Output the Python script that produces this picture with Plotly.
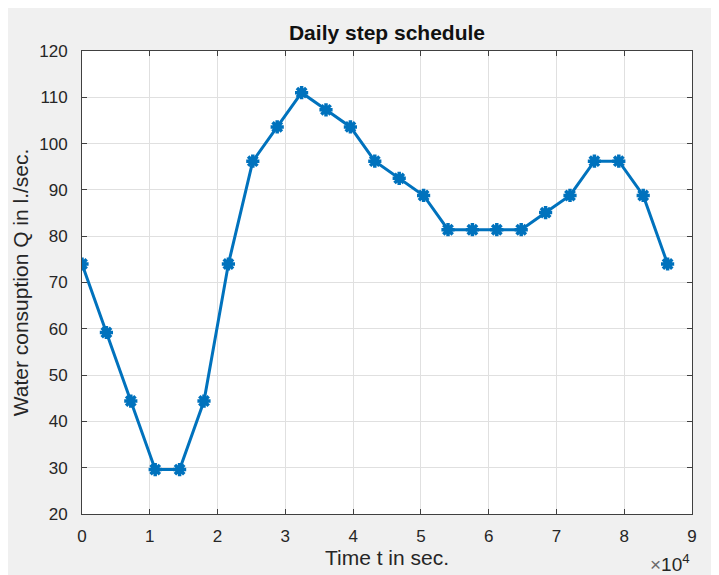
import plotly.graph_objects as go

# Data
time_s = [0, 3600, 7200, 10800, 14400, 18000, 21600, 25200, 28800, 32400,
          36000, 39600, 43200, 46800, 50400, 54000, 57600, 61200, 64800,
          68400, 72000, 75600, 79200, 82800, 86400]
flow_q = [74.0, 59.2, 44.4, 29.6, 29.6, 44.4, 74.0, 96.2, 103.6, 111.0,
          107.3, 103.6, 96.2, 92.5, 88.8, 81.4, 81.4, 81.4, 81.4,
          85.1, 88.8, 96.2, 96.2, 88.8, 74.0]
x_tickvals = [0, 10000, 20000, 30000, 40000, 50000, 60000, 70000, 80000, 90000]
x_ticktext = ["0", "1", "2", "3", "4", "5", "6", "7", "8", "9"]
y_tickvals = [20, 30, 40, 50, 60, 70, 80, 90, 100, 110, 120]

# page has an 8px body margin; figure coordinates = page coordinates - 8
W, H = 711, 567
L, R, T, B = 74, 27, 43, 61
pw, ph = W - L - R, H - T - B

def px_y(p):
    return (H - B - p) / ph

font_fam = "Liberation Sans, Arial, Helvetica, sans-serif"
txt_col = "#262626"
line_col = "#0072BD"

fig = go.Figure()
fig.add_trace(go.Scatter(
    x=time_s, y=flow_q, mode="lines+markers",
    line=dict(color=line_col, width=3),
    marker=dict(symbol="asterisk-open", size=11,
                line=dict(color=line_col, width=3.5), color=line_col),
    showlegend=False,
))

axis_common = dict(
    showline=True, linecolor="#404040", linewidth=1, mirror="ticks",
    ticks="inside", ticklen=5, tickcolor="#404040", tickwidth=1,
    showgrid=True, gridcolor="#e0e0e0", gridwidth=1, zeroline=False,
    automargin=False,
    tickfont=dict(family=font_fam, size=17, color=txt_col),
)

fig.update_layout(
    width=W, height=H,
    margin=dict(l=L, r=R, t=T, b=B, pad=0),
    paper_bgcolor="#f0f0f0", plot_bgcolor="white",
    title=dict(text="<b>Daily step schedule</b>", x=379 / W,
               xanchor="center", y=1 - 25 / H, yanchor="middle",
               font=dict(family=font_fam, size=21, color="#111111")),
    xaxis=dict(axis_common, range=[0, 90000], tickvals=x_tickvals,
               ticktext=x_ticktext, ticklabelstandoff=7,
               title=dict(text="Time t in sec.", standoff=3,
                          font=dict(family=font_fam, size=21, color=txt_col))),
    yaxis=dict(axis_common, range=[20, 120], tickvals=y_tickvals,
               ticklabelstandoff=10,
               title=dict(text="Water consuption Q in l./sec.", standoff=4,
                          font=dict(family=font_fam, size=21, color=txt_col))),
    annotations=[dict(text="<span style='color:#6a6a6a'>×</span>10<sup>4</sup>",
                      xref="paper", yref="paper",
                      x=1.0, y=px_y(555), xanchor="right", yanchor="middle",
                      showarrow=False,
                      font=dict(family=font_fam, size=19, color=txt_col))],
)

fig.write_html("out.html")
